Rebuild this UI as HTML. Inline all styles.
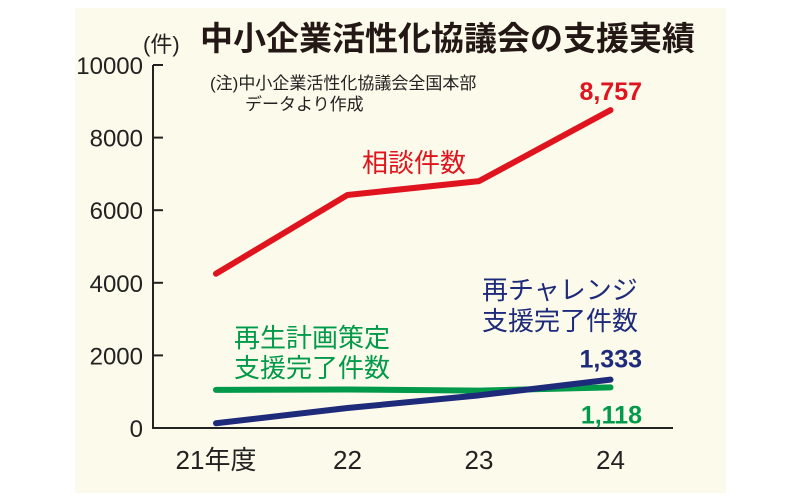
<!DOCTYPE html>
<html><head><meta charset="utf-8"><style>
body{margin:0;background:#fff;width:800px;height:500px;overflow:hidden}
svg{display:block;font-family:"Liberation Sans","Noto Sans CJK JP",sans-serif}
</style></head><body>
<svg width="800" height="500">
<rect x="75" y="8" width="651" height="485" fill="#fcfaea"/>
<text x="143" y="52" font-size="22" fill="#222">(件)</text>
<text x="200" y="50" font-size="33" font-weight="bold" fill="#231815">中小企業活性化協議会の支援実績</text>
<text x="210" y="89" font-size="17" fill="#222">(注)中小企業活性化協議会全国本部</text>
<text x="245" y="110" font-size="17" fill="#222">データより作成</text>
<g id="axes"></g>
<g id="marks"></g>
<text x="362" y="172" font-size="26" fill="#e0141e">相談件数</text>
<text x="482" y="299" font-size="26" fill="#1e2a7a">再チャレンジ</text>
<text x="482" y="330" font-size="26" fill="#1e2a7a">支援完了件数</text>
<text x="234" y="347" font-size="26" fill="#009a4a">再生計画策定</text>
<text x="234" y="377" font-size="26" fill="#009a4a">支援完了件数</text>
</svg>
<script>
const categories=["21年度","22","23","24"];
const consult=[4250,6420,6800,8757];
const rechallenge=[130,550,900,1333];
const rebuild=[1050,1060,1030,1118];
const yTicks=[0,2000,4000,6000,8000,10000];
const endLabels=["8,757","1,333","1,118"];
const NS="http://www.w3.org/2000/svg";
const X0=216,XS=131.5,Y0=428,YS=363/10000;
const x=i=>X0+i*XS, y=v=>Y0-v*YS;
function mk(t,a,p){const e=document.createElementNS(NS,t);for(const k in a)e.setAttribute(k,a[k]);p.appendChild(e);return e;}
const ax=document.getElementById('axes'),mg=document.getElementById('marks');
let l=mk('line',{x1:153,y1:y(10000),x2:153,y2:Y0,stroke:'#222','stroke-width':2},ax);


l=mk('line',{x1:152,y1:Y0,x2:673,y2:Y0,stroke:'#222','stroke-width':2},ax);


yTicks.forEach(v=>{
 const t=mk('line',{x1:153,y1:y(v),x2:163,y2:y(v),stroke:'#222','stroke-width':2},ax);
 
 
 const tx=mk('text',{x:143,y:y(v)+9,'font-size':24,'text-anchor':'end',fill:'#222'},ax);
 tx.textContent=v;
 
 
});
categories.forEach((c,i)=>{
 const tx=mk('text',{x:x(i),y:469,'font-size':26,'text-anchor':'middle',fill:'#222'},ax);
 tx.textContent=c;
 
 
});
function series(d,col,name){
 const p=mk('polyline',{points:d.map((v,i)=>x(i)+','+y(v)).join(' '),fill:'none',stroke:col,'stroke-width':6,'stroke-linecap':'round','stroke-linejoin':'round'},mg);
 
 
}
series(rebuild,'#009a4a','line-rebuild');
series(rechallenge,'#1e2a7a','line-rechallenge');
series(consult,'#e0141e','line-consult');
const ends=[[consult,'#e0141e',-10],[rechallenge,'#1e2a7a',-12],[rebuild,'#009a4a',36]];
ends.forEach((e,k)=>{
 const tx=mk('text',{x:642,y:y(e[0][3])+e[2],'font-size':25,'font-weight':'bold','text-anchor':'end',fill:e[1]},mg);
 tx.textContent=endLabels[k];
 
 
});
</script>
</body></html>
